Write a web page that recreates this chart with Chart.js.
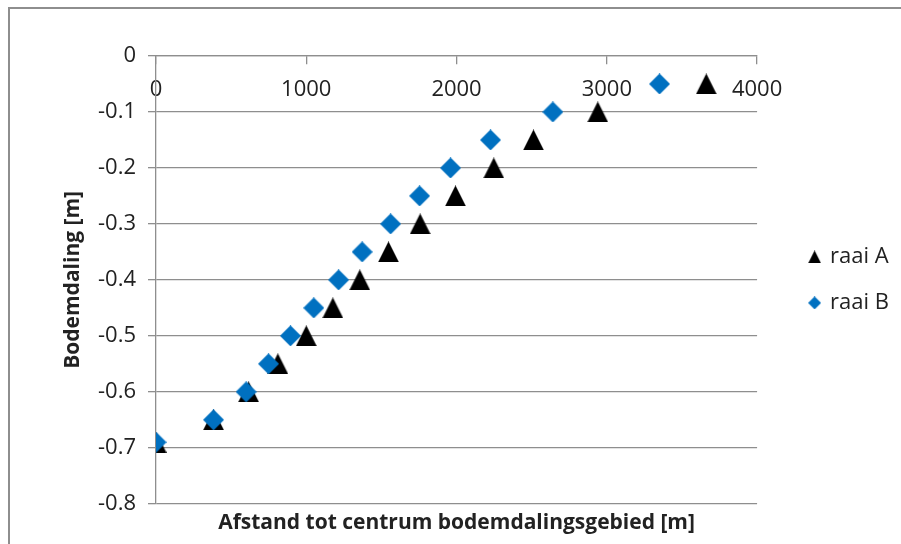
<!DOCTYPE html>
<html>
<head>
<meta charset="utf-8">
<script src="https://cdn.jsdelivr.net/npm/chart.js@4/dist/chart.umd.min.js"></script>
<style>
  html, body { margin: 0; padding: 0; background: #fff; overflow: hidden; }
</style>
</head>
<body>
<canvas id="myChart" width="901" height="544"></canvas>
<script>
// afstand tot centrum [m] en bodemdaling [m]
const distA = [0, 383, 616, 811, 1000, 1177, 1356, 1547, 1758, 1993, 2248, 2512, 2940, 3662];
const dalingA = [-0.69, -0.65, -0.60, -0.55, -0.50, -0.45, -0.40, -0.35, -0.30, -0.25, -0.20, -0.15, -0.10, -0.05];
const distB = [0, 383, 600, 749, 895, 1050, 1215, 1372, 1561, 1754, 1960, 2226, 2641, 3351];
const dalingB = [-0.69, -0.65, -0.60, -0.55, -0.50, -0.45, -0.40, -0.35, -0.30, -0.25, -0.20, -0.15, -0.10, -0.05];
const seriesNames = ['raai A', 'raai B'];
const xTicks = [0, 1000, 2000, 3000, 4000];
const yTicks = [0, -0.1, -0.2, -0.3, -0.4, -0.5, -0.6, -0.7, -0.8];

const gridGray = '#8e8e8e';
const textCol = '#222';
const fam = "'Open Sans', sans-serif";

// small canvas markers, centred like Excel markers
function marker(shape, size, color) {
  const c = document.createElement('canvas');
  c.width = size; c.height = size;
  const g = c.getContext('2d');
  g.fillStyle = color;
  g.beginPath();
  if (shape === 'tri') {
    g.moveTo(0, size); g.lineTo(size / 2, 0); g.lineTo(size, size);
  } else {
    g.moveTo(size / 2, 0); g.lineTo(size, size / 2); g.lineTo(size / 2, size); g.lineTo(0, size / 2);
  }
  g.closePath();
  g.fill();
  return c;
}
const pointMarks = [marker('tri', 21, '#000'), marker('dia', 21, '#0070c0')];
const legendMarks = [marker('tri', 13, '#000'), marker('dia', 13, '#0070c0')];

function toPoints(xs, ys) {
  return xs.map(function (x, i) { return {x: x, y: ys[i]}; });
}

// outer chart frame (left and top edge visible in the picture)
const framePlugin = {
  id: 'frame',
  beforeDraw(chart) {
    const c = chart.ctx;
    c.save();
    c.strokeStyle = '#8e8e8e';
    c.lineWidth = 2;
    c.beginPath();
    c.moveTo(9, chart.height);
    c.lineTo(9, 8);
    c.lineTo(chart.width, 8);
    c.stroke();
    c.restore();
  }
};

const ctx = document.getElementById('myChart').getContext('2d');
const myChart = new Chart(ctx, {
  type: 'scatter',
  data: {
    datasets: [{
      label: seriesNames[0],
      data: toPoints(distA, dalingA),
      pointStyle: pointMarks[0],
      pointRadius: 10,
      backgroundColor: '#000',
      order: 1
    }, {
      label: seriesNames[1],
      data: toPoints(distB, dalingB),
      pointStyle: pointMarks[1],
      pointRadius: 10,
      backgroundColor: '#0070c0',
      order: 0
    }]
  },
  plugins: [framePlugin],
  options: {
    responsive: false,
    animation: false,
    layout: { padding: { left: 0, top: 56, right: 2, bottom: 0 } },
    scales: {
      x: {
        type: 'linear',
        position: { y: 0 },
        min: 0, max: 4000,
        afterBuildTicks: function (s) { s.ticks = xTicks.map(v => ({value: v})); },
        ticks: {
          autoSkip: false, maxRotation: 0, padding: 13,
          color: textCol, font: { family: fam, size: 22 },
          callback: v => String(v)
        },
        grid: { drawOnChartArea: false, drawTicks: true, tickLength: 8, color: gridGray, lineWidth: 1.3 },
        border: { display: true, color: gridGray, width: 1.3 }
      },
      y: {
        type: 'linear',
        position: 'left',
        min: -0.8, max: 0,
        afterBuildTicks: function (s) { s.ticks = yTicks.map(v => ({value: v})); },
        afterFit: function (s) { s.width = 156; },
        ticks: {
          padding: 12, color: textCol, font: { family: fam, size: 22 },
          callback: v => (v === 0 ? '0' : v.toFixed(1))
        },
        grid: { color: gridGray, lineWidth: 1.3, tickLength: 8 },
        border: { display: true, color: gridGray, width: 1.3 },
        title: {
          display: true, text: 'Bodemdaling [m]', color: textCol,
          font: { family: fam, size: 21, weight: 'bold' },
          padding: { top: 60, bottom: 0 }
        }
      },
      gap: {
        type: 'linear', position: 'right', display: true,
        grid: { display: false }, ticks: { display: false }, border: { display: false },
        afterFit: function (s) { s.width = 29; }
      }
    },
    plugins: {
      tooltip: { enabled: false },
      title: {
        display: true, position: 'bottom', fullSize: false,
        text: 'Afstand tot centrum bodemdalingsgebied [m]',
        color: textCol, font: { family: fam, size: 21, weight: 'bold' },
        padding: { top: 7, bottom: 8 }
      },
      legend: {
        position: 'right', align: 'center', fullSize: false,
        labels: {
          usePointStyle: true, boxWidth: 9, boxHeight: 13, padding: 24,
          color: textCol, font: { family: fam, size: 22 },
          sort: (a, b) => a.datasetIndex - b.datasetIndex,
          generateLabels: function (chart) {
            const items = Chart.defaults.plugins.legend.labels.generateLabels(chart);
            items.forEach(it => { it.pointStyle = legendMarks[it.datasetIndex]; });
            return items;
          }
        }
      }
    }
  }
});
</script>
</body>
</html>
